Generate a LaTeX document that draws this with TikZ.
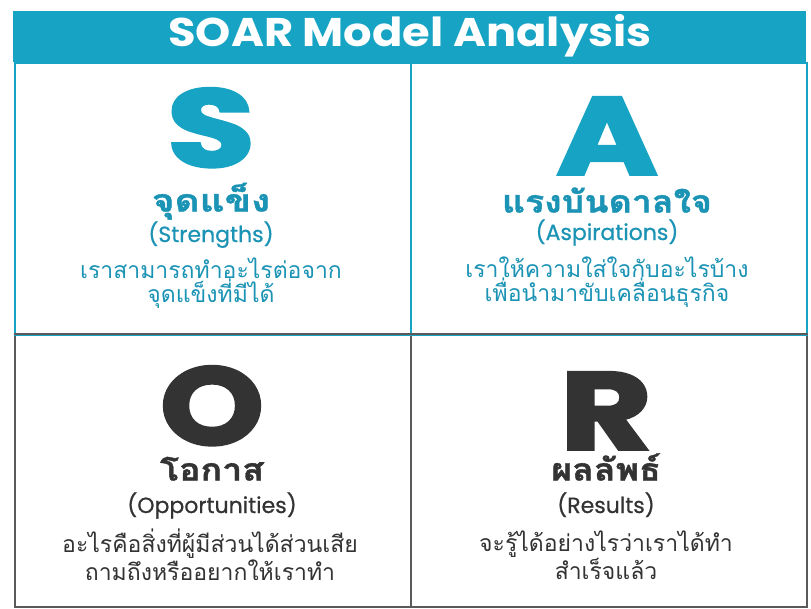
\documentclass[tikz,border=0pt]{standalone}
\usepackage{fontspec}
\setmainfont{Poppins}
\newfontfamily\thaifont[Script=Thai]{Loma}
\newfontfamily\thaiheavy[Script=Thai,FakeBold=1.2]{Loma}
\newfontfamily\bigfont[FakeBold=2.5]{Poppins}
\newfontfamily\subfont[FakeBold=0.6]{Poppins}
\newcommand{\sxw}[2]{\scalebox{#1}[1]{#2}}
\definecolor{teal1}{HTML}{17A3C4}
\definecolor{tealtxt}{HTML}{1B93B5}
\definecolor{darktxt}{HTML}{333333}
\definecolor{grayline}{HTML}{5A5A5A}
\tikzset{
  cellbox/.style={draw, line width=2pt, minimum width=396pt, minimum height=272pt, inner sep=0pt},
  bigletter/.style={font=\bigfont\bfseries\fontsize{110}{110}\selectfont, inner sep=0pt, text height=78pt, text depth=1pt},
  thaititle/.style={font=\thaiheavy\bfseries\fontsize{31}{31}\selectfont, inner sep=0pt, text height=18pt, text depth=1pt},
  engsub/.style={font=\subfont\fontsize{22}{22}\selectfont, inner sep=0pt, text height=15pt, text depth=3pt},
  desc/.style={font=\thaifont\fontsize{23}{24}\selectfont, inner sep=0pt, align=center}
}
\begin{document}
\begin{tikzpicture}[x=1pt,y=-1pt]
\useasboundingbox (0,0) rectangle (811,608);
\fill[white] (0,0) rectangle (811,608);
% title bar
\node[fill=teal1, minimum width=793pt, minimum height=51pt, inner sep=0pt, anchor=north west] (bar) at (13,11) {};
\node[text=white, font=\bfseries\fontsize{40}{40}\selectfont, inner sep=0pt] (title) at (410,36) {\sxw{1.12}{SOAR Model Analysis}};
% cells
\node[cellbox, draw=grayline, anchor=north west] (cO) at (14,334) {};
\node[cellbox, draw=grayline, anchor=north west] (cR) at (410,334) {};
\node[cellbox, draw=teal1, anchor=north west] (cS) at (14,62) {};
\node[cellbox, draw=teal1, anchor=north west] (cA) at (410,62) {};
\draw[grayline, line width=2pt] (cO.north west) -- (cR.north east);
% S cell
\node[bigletter, text=teal1] (S) at (211,128) {\sxw{1.3}{S}};
\node[thaititle, text=tealtxt] (St) at (211,203) {\sxw{1.25}{จุดแข็ง}};
\node[engsub, text=tealtxt] (Se) at (211,236) {(Strengths)};
\node[desc, text=tealtxt] (Sd) at (211,283) {เราสามารถทำอะไรต่อจาก\\จุดแข็งที่มีได้};
% A cell
\node[bigletter, text=teal1] (A) at (607,136) {\sxw{1.25}{A}};
\node[thaititle, text=tealtxt] (At) at (607,204) {\sxw{1.15}{แรงบันดาลใจ}};
\node[engsub, text=tealtxt] (Ae) at (607,234) {(Aspirations)};
\node[desc, text=tealtxt] (Ad) at (607,282) {เราให้ความใส่ใจกับอะไรบ้าง\\เพื่อนำมาขับเคลื่อนธุรกิจ};
% O cell
\node[bigletter, text=darktxt] (O) at (212,406) {\sxw{1.2}{O}};
\node[thaititle, text=darktxt] (Ot) at (212,472) {\sxw{1.15}{โอกาส}};
\node[engsub, text=darktxt] (Oe) at (212,507) {(Opportunities)};
\node[desc, text=darktxt] (Od) at (210,555) {อะไรคือสิ่งที่ผู้มีส่วนได้ส่วนเสีย\\ถามถึงหรืออยากให้เราทำ};
% R cell
\node[bigletter, text=darktxt] (R) at (606,411) {\sxw{1.28}{R}};
\node[thaititle, text=darktxt] (Rt) at (606,472) {\sxw{1.15}{ผลลัพธ์}};
\node[engsub, text=darktxt] (Re) at (606,507) {(Results)};
\node[desc, text=darktxt] (Rd) at (606,555) {จะรู้ได้อย่างไรว่าเราได้ทำ\\สำเร็จแล้ว};
\end{tikzpicture}
\end{document}
